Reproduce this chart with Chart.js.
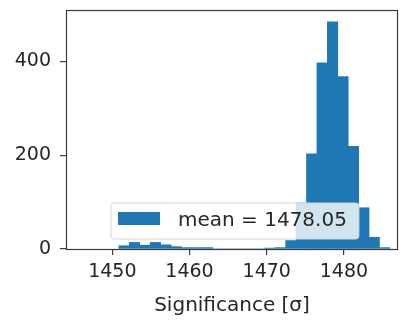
<!DOCTYPE html>
<html>
<head>
<meta charset="utf-8">
<script src="https://cdn.jsdelivr.net/npm/chart.js@4/dist/chart.umd.min.js"></script>
<style>
  html, body { margin: 0; padding: 0; background: #fff; }
  canvas { display: block; }
</style>
</head>
<body>
<canvas id="histograma" width="403" height="320"></canvas>
<script>
// Histograma: primer borde de bin y ancho común (en sigma)
const binStart = 1450.85;
const binWidth = 1.35;
const counts = [7, 14, 8, 14, 9, 5, 3, 3, 3, 0, 0, 0, 0, 0,
                2, 3, 18, 98, 203, 397, 485, 368, 219, 88, 25, 3];
const xTicks = [1450, 1460, 1470, 1480];
const yTicks = [0, 200, 400];
const meanValue = 1478.05;

const azul = "#1f77b4";
const texto = "#262626";
const fuente = "'DejaVu Sans', sans-serif";

const puntos = counts.map((c, i) => ({ x: binStart + binWidth * (i + 0.5), y: c }));

// Marco completo y leyenda semitransparente estilo matplotlib
const marcoYLeyenda = {
  id: "marcoYLeyenda",
  afterDatasetsDraw(chart) {
    const { ctx, chartArea: a } = chart;
    ctx.save();
    ctx.strokeStyle = "#3a3a3a";
    ctx.lineWidth = 1.2;
    ctx.strokeRect(a.left + 0.5, a.top + 0.5, a.right - a.left - 1, a.bottom - a.top);

    const label = "mean = " + meanValue.toFixed(2);
    ctx.font = "20px " + fuente;
    const tw = ctx.measureText(label).width;
    const x = a.left + 45, y = a.bottom - 46, h = 36;
    const w = 7 + 42 + 18 + tw + 12;
    const r = 3;
    ctx.beginPath();
    ctx.moveTo(x + r, y);
    ctx.lineTo(x + w - r, y);
    ctx.quadraticCurveTo(x + w, y, x + w, y + r);
    ctx.lineTo(x + w, y + h - r);
    ctx.quadraticCurveTo(x + w, y + h, x + w - r, y + h);
    ctx.lineTo(x + r, y + h);
    ctx.quadraticCurveTo(x, y + h, x, y + h - r);
    ctx.lineTo(x, y + r);
    ctx.quadraticCurveTo(x, y, x + r, y);
    ctx.closePath();
    ctx.fillStyle = "rgba(255,255,255,0.8)";
    ctx.fill();
    ctx.strokeStyle = "#d6d6d6";
    ctx.lineWidth = 1;
    ctx.stroke();

    ctx.fillStyle = azul;
    ctx.fillRect(x + 7, y + 9, 42, 13);
    ctx.fillStyle = texto;
    ctx.textBaseline = "middle";
    ctx.fillText(label, x + 67, y + h / 2);
    ctx.restore();
  },
};

new Chart(document.getElementById("histograma"), {
  type: "bar",
  data: {
    datasets: [
      {
        label: "mean = " + meanValue,
        data: puntos,
        backgroundColor: azul,
        borderWidth: 0,
        barPercentage: 1,
        categoryPercentage: 1,
      },
    ],
  },
  options: {
    responsive: false,
    animation: false,
    devicePixelRatio: 1,
    layout: { padding: { top: 10, right: 5, left: 0, bottom: 0 } },
    plugins: { legend: { display: false }, tooltip: { enabled: false } },
    scales: {
      x: {
        type: "linear",
        min: 1444,
        max: 1487,
        offset: false,
        afterFit: (s) => { s.height = 71; s.paddingLeft = 0; s.paddingRight = 0; },
        afterBuildTicks: (s) => { s.ticks = xTicks.map((v) => ({ value: v })); },
        grid: { offset: false, drawOnChartArea: false, drawTicks: true, tickLength: 6, color: "#3a3a3a", lineWidth: 1.2 },
        border: { display: false },
        ticks: {
          color: texto,
          font: { family: fuente, size: 19 },
          padding: 6,
          maxRotation: 0,
          callback: (v) => String(v),
        },
        title: {
          display: true,
          text: "Significance [σ]",
          color: texto,
          font: { family: fuente, size: 20 },
          padding: { top: 0, bottom: 2 },
        },
      },
      y: {
        min: 0,
        max: 510,
        afterFit: (s) => { s.width = 66; s.paddingTop = 0; s.paddingBottom = 0; },
        afterBuildTicks: (s) => { s.ticks = yTicks.map((v) => ({ value: v })); },
        grid: { drawOnChartArea: false, drawTicks: true, tickLength: 6, color: "#3a3a3a", lineWidth: 1.2 },
        border: { display: false },
        ticks: { color: texto, font: { family: fuente, size: 19 }, padding: 9, callback: (v) => String(v) },
      },
    },
  },
  plugins: [marcoYLeyenda],
});
</script>
</body>
</html>
